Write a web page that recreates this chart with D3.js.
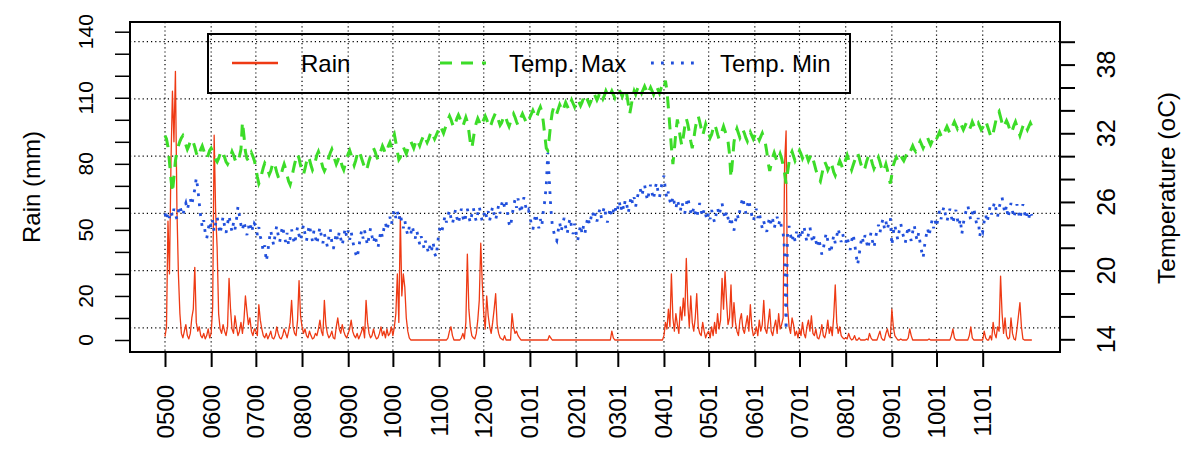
<!DOCTYPE html>
<html>
<head>
<meta charset="utf-8">
<script src="https://cdn.jsdelivr.net/npm/d3@7"></script>
<style>
  body { margin: 0; background: #fff; }
  text { font-family: "Liberation Sans", Arial, Helvetica, sans-serif; fill: #000; }
</style>
</head>
<body>
<script>
// daily series, first day = 2000-05-01
const firstDay = '2000-05-01';

const rainMm = [
  // May 2000
  1.5,6,54,30,80,113,90,122,60,30, 12,3,1,4,7,2,0.5,3,10,14, 33,8,4,6,2,1,3,0.5,2,5, 1,
  // Jun
  3,15,93,58,42,12,5,3,7,4, 2,6,28,14,5,3,11,6,2,4, 8,3,9,20,13,7,10,4,2,5,
  // Jul
  4,2,16,9,5,2,1,3,0.5,2, 4,1,0.5,2,6,3,1,0.5,2,5, 3,1,4,8,18,6,3,2,9,27, 11,
  // Aug
  6,3,5,2,1,4,2,0.5,1,3, 2,5,9,4,2,18,7,3,1,2, 4,1,0.5,6,10,5,3,7,4,2, 1,
  // Sep
  3,5,9,4,2,1,3,0.5,2,4, 6,1,18,8,3,1,2,5,2,0.5, 1,3,6,2,4,1,5,2,3,6,
  // Oct
  2,6,12,30,8,56,20,30,24,10, 4,1,0,0,0,0,0,0,0,0, 0,0,0,0,0,0,0,0,0,0, 0,
  // Nov
  0,0,0,0,0,0,1,4,6,2, 0,0,0,0,0,1,3,0.5,8,39, 14,6,2,1,0.5,3,9,18,44,26,
  // Dec
  12,5,20,11,6,3,8,14,21,7, 3,1,0.5,0,2,0,0,0,0,12, 6,3,4,2,1,0,0,0,0,0, 0,
  // Jan 2001
  0,0,0,0,0,0,0,0,0,0, 0,0,0,2,1,0,0,0,0,0, 0,0,0,0,0,0,0,0,0,0, 0,
  // Feb
  0,0,0,0,0,0,0,0,0,0, 0,0,0,0,0,0,0,0,0,0, 0,0,0,0,4,1,0,0,
  // Mar
  0,0,0,0,0,0,0,0,0,0, 0,0,0,0,0,0,0,0,0,0, 0,0,0,0,0,0,0,0,0,0, 0,
  // Apr
  2,8,5,14,6,30,10,4,12,7, 3,15,9,19,11,37,16,6,20,8, 4,10,21,6,3,2,8,4,1,3,
  // May
  4,1,6,2,8,3,12,5,9,28, 14,31,18,7,10,25,6,17,8,4, 2,9,12,5,3,7,11,4,16,6, 2,
  // Jun
  3,6,2,9,4,7,18,5,3,8, 14,4,2,6,9,3,12,5,7,10, 80,95,15,6,3,10,7,2,4,1,
  // Jul
  5,2,8,3,1,6,9,4,11,3, 2,5,1,0.5,3,7,2,1,4,9, 3,6,2,11,25,8,3,6,2,1, 0.5,
  // Aug
  1,0.5,3,1,0,0.5,2,0,0,1, 0,0,0,0,0.5,0,3,1,0,0, 0,0,2,4,1,0,0,3,5,2, 1,
  // Sep
  14,6,2,1,0,0,0.5,0,0,0, 0,1,5,2,0,0,0,0,0,0, 0,0,0,0,0,0.5,0,0,0,0,
  // Oct
  0,0,0,0,0,0,0,0,0,0, 2,5,1,0,0,0,0,0,0,0, 0,0,2,6,1,0,0,0,0,0, 0,
  // Nov
  0,4,1,0,0,2,0,8,3,1, 6,4,29,12,3,10,2,0.5,1,10, 3,0.5,0,5,11,17,6,0.5,0,0,
  // Dec
  0,0,0,0
];

const tempMax = [
  // May 2000
  31.8,31.5,30.8,29.5,28.0,26.8,28.2,29.6,30.4,30.9, 31.3,31.6,31.8,31.5,31.0,30.6,30.9,31.3,31.5,31.2, 30.8,30.3,29.9,30.2,30.6,30.9,30.5,30.0,29.8,30.1, 30.5,
  // Jun
  30.7,30.4,30.0,29.7,29.5,29.8,30.2,30.5,30.3,29.9, 29.5,29.3,29.6,30.0,30.4,30.1,29.7,29.4,29.6,30.0, 30.6,33.0,31.8,30.4,29.8,29.6,29.9,30.3,30.0,29.6,
  // Jul
  29.0,28.2,27.6,27.9,28.5,29.0,29.4,29.2,28.8,28.4, 28.7,29.2,29.5,29.1,28.6,28.2,28.0,28.4,28.9,29.3, 28.9,28.3,27.8,27.5,28.0,28.7,29.3,29.8,30.2,29.8, 29.2,
  // Aug
  28.7,28.4,28.9,29.5,30.0,29.7,29.2,28.8,29.1,29.6, 30.1,30.4,30.0,29.5,29.0,28.7,29.0,29.5,29.9,30.3, 30.6,30.2,29.7,29.3,29.6,30.0,29.6,29.1,28.8,29.3, 29.8,
  // Sep
  30.2,30.5,30.1,29.6,29.2,29.6,30.1,30.5,30.2,29.8, 29.4,29.0,28.7,29.1,29.6,30.0,30.4,30.7,30.4,30.0, 29.7,30.1,30.5,30.9,30.6,30.2,30.5,30.9,31.2,30.8,
  // Oct
  31.6,31.9,31.2,30.4,29.7,29.9,30.4,30.8,30.5,30.2, 30.6,31.0,31.3,31.0,30.7,31.1,31.5,31.2,30.9,31.3, 31.6,31.9,31.5,31.2,31.5,31.9,32.2,31.8,31.5,31.8, 32.1,
  // Nov
  32.4,32.7,32.3,32.0,32.4,32.8,33.2,33.5,33.2,32.8, 32.5,32.9,33.3,33.6,33.3,32.9,32.6,33.0,33.4,33.0, 32.2,31.2,30.7,31.5,32.4,32.9,33.3,33.0,32.6,32.9,
  // Dec
  33.2,33.5,33.2,32.8,32.5,32.8,33.2,33.5,33.8,33.5, 33.1,32.7,32.9,33.3,33.6,33.3,32.9,32.6,33.0,33.4, 33.7,33.4,33.0,32.7,33.0,33.4,33.7,33.4,33.1,32.8, 33.1,
  // Jan 2001
  33.4,33.7,34.0,33.7,33.3,33.6,34.0,34.3,33.9,33.0, 31.8,30.7,30.5,31.6,32.9,33.8,34.3,34.0,33.7,34.1, 34.5,34.2,33.9,34.3,34.7,34.4,34.1,34.5,34.9,34.6, 34.3,
  // Feb
  34.7,35.0,34.7,34.4,34.7,35.1,35.4,35.1,34.8,34.5, 34.8,35.2,35.5,35.2,34.9,35.2,35.6,35.3,35.0,35.3, 35.7,35.4,35.1,35.4,35.7,35.4,35.1,35.5,
  // Mar
  35.5,35.8,35.5,35.2,35.6,35.9,35.4,34.6,33.7,34.4, 35.2,35.7,35.4,35.8,36.1,35.8,35.5,35.8,36.1,35.8, 35.4,35.7,36.0,35.7,35.4,35.8,36.1,35.8,35.5,35.9, 36.2,
  // Apr
  35.9,36.6,35.7,34.2,32.5,30.8,29.3,30.6,32.1,33.2, 32.5,31.6,30.9,31.7,32.6,33.3,32.8,32.1,31.3,30.7, 31.5,32.4,33.1,33.5,33.0,32.4,31.8,32.3,32.8,32.4,
  // May
  32.0,31.6,31.9,32.4,32.8,32.4,31.9,31.5,31.8,32.2, 32.6,32.2,31.8,31.3,30.2,28.1,29.6,31.2,32.0,32.4, 32.0,31.6,31.9,32.3,32.0,31.6,31.3,31.7,32.1,31.8, 31.5,
  // Jun
  31.8,32.1,31.7,31.4,31.7,32.0,31.6,31.2,30.4,29.4, 28.7,29.3,29.9,30.3,29.9,29.5,29.8,30.2,29.8,29.2, 28.5,27.6,28.6,29.5,30.1,30.4,30.0,29.6,29.9,30.2,
  // Jul
  30.5,30.2,29.8,30.1,30.4,30.0,29.6,29.9,30.2,29.8, 29.3,28.8,28.4,28.0,27.8,28.4,29.0,29.5,29.2,28.8, 29.1,29.5,29.1,28.6,28.3,28.7,29.2,29.6,29.3,28.9, 29.3,
  // Aug
  29.7,30.1,29.7,29.2,28.8,29.2,29.6,30.0,30.3,29.9, 29.4,29.0,28.7,29.0,29.5,29.9,30.2,29.8,29.3,28.9, 29.2,29.6,29.9,29.5,29.0,28.6,28.9,29.3,28.8,28.1, 27.6,
  // Sep
  28.4,29.2,29.6,29.9,29.6,29.8,30.1,29.8,29.6,29.9, 30.2,30.0,30.3,30.6,30.9,30.6,30.4,30.7,31.0,31.3, 31.0,30.7,31.0,31.3,31.6,31.3,31.0,31.3,31.5,31.2,
  // Oct
  31.5,31.8,32.1,31.8,31.6,31.9,32.3,32.6,32.3,32.0, 32.3,32.7,33.0,32.7,32.4,32.7,32.9,32.6,32.3,32.6, 32.9,32.6,32.3,32.6,33.0,32.7,32.4,32.7,32.9,32.6, 32.3,
  // Nov
  32.5,32.8,33.1,32.7,32.3,31.9,31.6,32.0,32.6,33.2, 33.7,33.9,33.4,32.9,32.5,32.8,33.1,32.8,32.4,32.0, 32.3,32.7,33.0,32.6,32.2,31.8,32.2,32.6,32.9,32.6,
  // Dec
  32.3,32.6,32.9,32.6
];

const tempMin = [
  // May 2000
  25.0,24.4,25.1,24.6,25.2,24.7,25.4,24.9,24.5,25.2, 25.7,25.1,24.8,25.5,25.9,25.3,25.9,26.3,25.7,26.5, 27.1,28.1,27.2,25.9,24.7,23.8,24.4,23.3,22.8,23.6, 24.3,
  // Jun
  23.7,24.4,23.4,24.1,24.7,23.9,23.2,24.0,24.7,23.9, 23.3,24.1,24.8,24.0,23.4,24.2,23.6,24.5,25.6,24.8, 24.0,23.5,24.3,23.7,23.1,23.9,23.4,24.2,23.5,24.1,
  // Jul
  23.9,23.1,23.8,23.0,22.4,21.7,22.2,20.8,21.6,22.7, 23.5,22.8,22.2,23.2,23.9,23.1,22.5,23.3,23.9,23.1, 22.5,23.3,22.2,22.8,23.6,22.9,22.3,23.1,23.8,23.1, 22.6,
  // Aug
  23.4,24.0,23.2,22.6,23.4,24.0,23.2,22.6,23.5,22.9, 22.3,23.1,23.8,23.0,22.4,23.2,22.7,22.1,22.9,23.6, 22.5,21.9,22.5,23.3,22.6,23.4,22.8,22.2,23.0,23.7, 22.9,
  // Sep
  23.5,22.7,23.4,22.6,22.0,21.5,21.1,21.9,22.8,23.5, 22.8,23.5,22.8,22.2,23.0,23.7,23.0,22.4,23.1,22.5, 22.0,22.8,23.5,22.9,23.7,24.2,23.5,24.1,24.7,24.0,
  // Oct
  24.8,25.3,24.6,25.2,24.4,25.0,24.2,23.7,24.4,23.6, 23.1,23.8,23.2,23.9,23.3,22.8,23.5,22.9,22.3,23.0, 22.5,21.9,22.6,22.0,21.5,22.3,21.8,22.5,21.5,21.2, 22.3,
  // Nov
  23.4,23.9,23.5,24.1,24.8,24.2,24.8,25.3,24.6,24.1, 24.7,25.3,24.6,24.1,24.8,25.4,24.7,24.2,24.8,25.4, 24.7,24.2,24.9,25.5,24.8,24.3,25.0,25.6,24.9,24.3,
  // Dec
  24.8,25.3,24.6,25.2,24.4,25.0,25.6,24.9,24.4,25.1, 25.7,25.0,25.8,26.2,25.5,26.0,25.0,24.1,23.8,24.8, 25.6,26.2,25.5,26.3,25.6,25.0,25.8,26.4,25.7,25.1, 25.3,
  // Jan 2001
  24.8,24.0,23.6,24.4,25.0,24.2,23.7,24.5,23.9,25.2, 26.1,27.5,30.3,28.0,25.5,24.0,23.4,22.8,22.6,23.5, 24.2,23.4,24.1,24.6,23.8,23.2,24.0,24.6,23.8,23.2, 24.1,
  // Feb
  23.3,22.6,23.3,24.0,23.2,23.9,23.3,24.1,24.7,24.0, 24.6,25.2,24.5,25.0,24.3,24.9,25.4,24.6,25.1,25.6, 24.8,24.2,24.9,25.5,24.7,25.2,25.7,25.0,
  // Mar
  25.5,26.1,25.2,25.9,25.3,26.2,25.8,25.0,25.8,26.5, 25.8,26.4,25.6,26.3,26.9,27.2,26.5,27.0,27.5,26.7, 26.1,26.9,27.5,26.8,26.2,27.1,27.7,26.9,26.4,27.2, 27.8,
  // Apr
  28.3,27.0,26.3,26.9,26.1,25.7,26.5,25.9,25.4,26.2, 25.7,25.2,26.0,25.5,25.0,25.8,26.4,25.7,25.1,24.8, 25.6,25.0,24.6,25.3,25.9,25.2,24.7,25.4,24.9,24.4,
  // May
  25.1,24.5,25.3,24.7,24.2,24.9,25.5,24.8,25.4,25.9, 25.1,24.5,25.2,24.6,24.0,24.7,23.9,23.5,24.3,25.0, 24.5,25.3,25.9,26.4,25.6,25.0,25.7,26.2,25.4,24.8, 24.3,
  // Jun
  24.9,25.4,24.6,25.1,24.3,23.7,24.3,23.8,23.4,24.1, 24.7,24.0,24.5,23.7,24.2,24.7,24.0,24.5,23.7,23.3, 21.8,14.8,23.4,23.9,23.1,22.5,23.2,22.6,23.4,22.8,
  // Jul
  23.5,22.8,23.4,23.9,23.1,22.5,23.2,23.8,23.0,22.4, 23.1,22.6,22.0,22.8,22.1,21.4,21.9,22.7,23.3,22.6, 22.0,21.5,22.4,23.1,22.4,23.0,23.7,23.0,22.5,23.2, 22.6,
  // Aug
  22.4,23.0,22.3,21.8,22.6,23.2,22.4,21.4,20.5,21.3, 22.3,23.0,22.4,23.1,22.5,21.9,22.7,23.3,22.6,22.0, 22.8,23.5,24.0,23.3,24.0,24.5,23.7,24.3,23.6,24.2, 24.6,
  // Sep
  22.2,23.3,24.0,23.3,22.7,23.5,24.1,23.4,22.9,22.4, 23.2,23.9,23.2,22.6,23.4,24.0,23.2,22.6,23.3,22.4, 21.7,21.1,22.2,23.0,23.7,23.0,23.8,24.4,23.7,24.4,
  // Oct
  23.8,24.6,25.2,24.5,25.1,25.6,24.9,24.3,24.9,25.4, 24.7,24.1,24.8,25.3,24.5,23.9,24.5,23.2,24.1,24.8, 25.3,25.7,25.0,24.4,25.0,25.5,24.7,24.0,24.6,23.0, 23.7,
  // Nov
  23.4,24.3,24.9,24.2,25.0,25.6,24.9,25.5,26.0,25.3, 24.7,25.5,26.0,26.4,25.6,25.0,25.7,24.6,25.3,25.9, 25.2,24.6,25.3,25.8,25.1,24.5,25.2,25.8,25.1,24.5,
  // Dec
  25.1,24.6,25.2,24.8
];

const monthTicks = ['0500','0600','0700','0800','0900','1000','1100','1200','0101','0201',
                    '0301','0401','0501','0601','0701','0801','0901','1001','1101'];
const rainTicks = d3.range(0, 141, 10);
const rainLabels = [0, 20, 50, 80, 110, 140];
const tempTicks = d3.range(14, 41, 2);
const tempLabels = [14, 20, 26, 32, 38];
const tempGrid = [15, 20, 25, 30, 35, 40];

const width = 1200;
const height = 450;
const box = { left: 130, right: 1060, top: 22, bottom: 352 };

const colRain = '#ee3a14';
const colMax = '#3cdc28';
const colMin = '#2150dc';
const dashMax = '12,9';
const dashMin = '2.8,7.2';

const svg = d3.select('body').append('svg')
    .attr('width', width)
    .attr('height', height);

const start = d3.utcParse('%Y-%m-%d')(firstDay);
const tickDates = monthTicks.map(d3.utcParse('%m%y'));
const dayDate = i => d3.utcDay.offset(start, i);

// scales
const x = d3.scaleUtc()
    .domain([tickDates[0], tickDates[tickDates.length - 1]])
    .range([165, 982.7]);
const yRain = d3.scaleLinear().domain([0, 140]).range([340, 31.7]);
const yTemp = d3.scaleLinear().domain([14, 40]).range([339.3, 41.7]);

// dotted grid
const grid = svg.append('g')
    .attr('stroke', '#000')
    .attr('stroke-width', 1.2)
    .attr('stroke-dasharray', '1.2,3');
grid.selectAll('.vg')
    .data(tickDates)
    .join('line')
    .attr('x1', d => x(d)).attr('x2', d => x(d))
    .attr('y1', box.top).attr('y2', box.bottom);
grid.selectAll('.hg')
    .data(tempGrid)
    .join('line')
    .attr('x1', box.left).attr('x2', box.right)
    .attr('y1', d => yTemp(d)).attr('y2', d => yTemp(d));

// series
const rainLine = d3.line()
    .x((d, i) => x(dayDate(i)))
    .y(d => yRain(d));
const tempLine = d3.line()
    .defined(d => d != null)
    .x((d, i) => x(dayDate(i)))
    .y(d => yTemp(d));

svg.append('path')
    .attr('d', rainLine(rainMm))
    .attr('fill', 'none')
    .attr('stroke', colRain)
    .attr('stroke-width', 1.3)
    .attr('stroke-linejoin', 'round');

svg.append('path')
    .attr('d', tempLine(tempMax))
    .attr('fill', 'none')
    .attr('stroke', colMax)
    .attr('stroke-width', 3)
    .attr('stroke-dasharray', dashMax);

svg.append('path')
    .attr('d', tempLine(tempMin))
    .attr('fill', 'none')
    .attr('stroke', colMin)
    .attr('stroke-width', 2.8)
    .attr('stroke-dasharray', dashMin);

// axes (ticks only, labels drawn rotated below)
svg.append('g')
    .attr('transform', `translate(${box.left},0)`)
    .call(d3.axisLeft(yRain).tickValues(rainTicks).tickSize(15).tickSizeOuter(0).tickFormat(''))
    .call(g => g.select('.domain').remove())
    .call(g => g.selectAll('line').attr('stroke-width', 1.5));

svg.append('g')
    .attr('transform', `translate(${box.right},0)`)
    .call(d3.axisRight(yTemp).tickValues(tempTicks).tickSize(15).tickSizeOuter(0).tickFormat(''))
    .call(g => g.select('.domain').remove())
    .call(g => g.selectAll('line').attr('stroke-width', 2));

svg.append('g')
    .attr('transform', `translate(0,${box.bottom})`)
    .call(d3.axisBottom(x).tickValues(tickDates).tickSize(15).tickSizeOuter(0).tickFormat(''))
    .call(g => g.select('.domain').remove())
    .call(g => g.selectAll('line').attr('stroke-width', 2));

svg.append('g').selectAll('text')
    .data(rainLabels)
    .join('text')
    .attr('transform', d => `translate(93,${yRain(d)}) rotate(-90)`)
    .attr('text-anchor', 'middle')
    .attr('font-size', 21)
    .text(d => d);

svg.append('g').selectAll('text')
    .data(tempLabels)
    .join('text')
    .attr('transform', d => `translate(1115,${yTemp(d)}) rotate(-90)`)
    .attr('text-anchor', 'middle')
    .attr('font-size', 25)
    .text(d => d);

svg.append('g').selectAll('text')
    .data(monthTicks)
    .join('text')
    .attr('transform', (d, i) => `translate(${x(tickDates[i]) + 8.5},385) rotate(-90)`)
    .attr('text-anchor', 'end')
    .attr('font-size', 24)
    .text(d => d);

// axis titles
svg.append('text')
    .attr('transform', 'translate(40,187) rotate(-90)')
    .attr('text-anchor', 'middle')
    .attr('font-size', 24)
    .text('Rain (mm)');

svg.append('text')
    .attr('transform', 'translate(1175,188) rotate(-90)')
    .attr('text-anchor', 'middle')
    .attr('font-size', 24.5)
    .text('Temperature (oC)');

// plot box
svg.append('rect')
    .attr('x', box.left).attr('y', box.top)
    .attr('width', box.right - box.left).attr('height', box.bottom - box.top)
    .attr('fill', 'none')
    .attr('stroke', '#000')
    .attr('stroke-width', 2);

// legend
const legend = svg.append('g');
legend.append('rect')
    .attr('x', 208).attr('y', 34)
    .attr('width', 642).attr('height', 59)
    .attr('fill', 'none')
    .attr('stroke', '#000')
    .attr('stroke-width', 2);

const legendItems = [
  { name: 'Rain', color: colRain, x: 232, width: 2.6, dash: null },
  { name: 'Temp. Max', color: colMax, x: 440, width: 3, dash: dashMax },
  { name: 'Temp. Min', color: colMin, x: 651, width: 2.8, dash: dashMin }
];
legendItems.forEach(item => {
    legend.append('line')
        .attr('x1', item.x).attr('x2', item.x + 46)
        .attr('y1', 63).attr('y2', 63)
        .attr('stroke', item.color)
        .attr('stroke-width', item.width)
        .attr('stroke-dasharray', item.dash);
    legend.append('text')
        .attr('x', item.x + 69)
        .attr('y', 71.5)
        .attr('font-size', 24)
        .text(item.name);
});
</script>
</body>
</html>
